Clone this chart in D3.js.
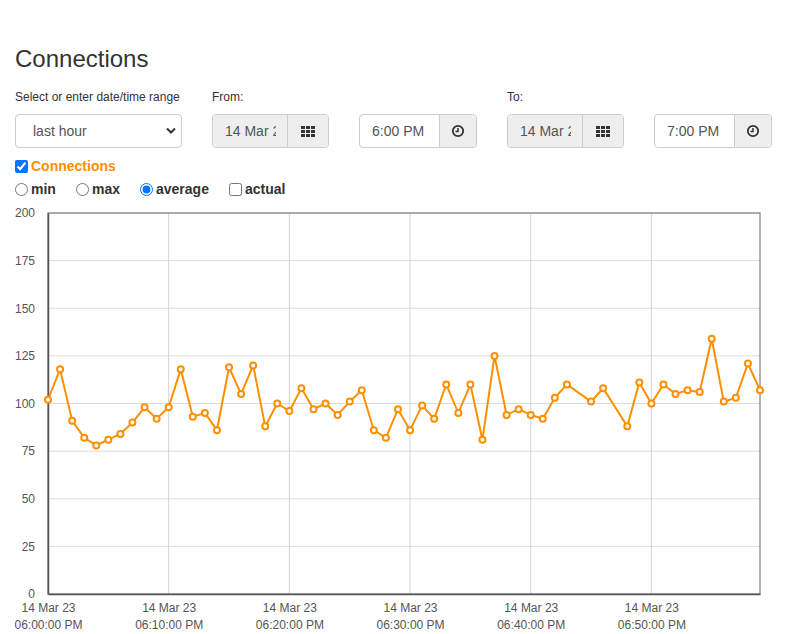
<!DOCTYPE html>
<html>
<head>
<meta charset="utf-8">
<script src="https://cdn.jsdelivr.net/npm/d3@7"></script>
<style>
  body { margin: 0; font-family: "Liberation Sans", Arial, sans-serif; color: #333; background: #fff; }
  .abs { position: absolute; }
  h3 { position: absolute; left: 15px; top: 45px; margin: 0; font-size: 24px; font-weight: 500; line-height: 28px; }
  .lbl { font-size: 12px; line-height: 14px; top: 90px; }
  .box { top: 114px; height: 32px; border: 1px solid #ccc; border-radius: 4px; box-sizing: content-box; overflow: hidden; display: flex; }
  .box .inp { height: 32px; line-height: 32px; font-size: 14px; color: #555; white-space: nowrap; overflow: hidden; box-sizing: border-box; padding-left: 12px; }
  .box .inp span { display: inline-block; overflow: hidden; vertical-align: top; }
  .box .btn { height: 32px; background: #eee; border-left: 1px solid #ccc; display: flex; align-items: center; justify-content: center; }
  .chk { font-size: 14px; font-weight: bold; line-height: 16px; display: flex; align-items: center; }
  .chk input { margin: 0 3px 0 0; width: 13px; height: 13px; }
  #chart { position: absolute; left: 0; top: 200px; }
</style>
</head>
<body>
<h3>Connections</h3>
<div class="abs lbl" style="left:15px">Select or enter date/time range</div>
<div class="abs lbl" style="left:212px">From:</div>
<div class="abs lbl" style="left:507px">To:</div>

<div class="abs box" style="left:15px;width:165px;">
  <div class="inp" style="width:165px;padding-left:17px;">last hour</div>
  <svg class="abs" style="left:150px;top:12px" width="10" height="8"><path d="M1,1.5 L5,5.5 L9,1.5" fill="none" stroke="#333" stroke-width="2"/></svg>
</div>

<div class="abs box" style="left:212px;width:115px;">
  <div class="inp" style="width:75px;background:#eee;"><span style="width:51px">14 Mar 2023</span></div>
  <div class="btn grid" style="width:40px"></div>
</div>
<div class="abs box" style="left:359px;width:116px;">
  <div class="inp" style="width:80px;">6:00 PM</div>
  <div class="btn clock" style="width:36px"></div>
</div>
<div class="abs box" style="left:507px;width:115px;">
  <div class="inp" style="width:75px;background:#eee;"><span style="width:51px">14 Mar 2023</span></div>
  <div class="btn grid" style="width:40px"></div>
</div>
<div class="abs box" style="left:654px;width:116px;">
  <div class="inp" style="width:80px;">7:00 PM</div>
  <div class="btn clock" style="width:36px"></div>
</div>

<label class="abs chk" style="left:15px;top:158px;color:#ff8f00"><input type="checkbox" checked>Connections</label>
<label class="abs chk" style="left:15px;top:181px"><input type="radio" name="agg">min</label>
<label class="abs chk" style="left:76px;top:181px"><input type="radio" name="agg">max</label>
<label class="abs chk" style="left:140px;top:181px"><input type="radio" name="agg" checked>average</label>
<label class="abs chk" style="left:229px;top:181px"><input type="checkbox">actual</label>

<div id="chart"></div>

<script>
// minutes after 6:00 PM on 14 Mar 2023 (some minutes have no sample)
var minuteOffsets = [0, 1, 2, 3, 4, 5, 6, 7, 8, 9, 10, 11, 12, 13, 14, 15, 16, 17, 18, 19,
    20, 21, 22, 23, 24, 25, 26, 27, 28, 29, 30, 31, 32, 33, 34, 35, 36, 37, 38, 39,
    40, 41, 42, 43, 45, 46, 48, 49, 50, 51, 52, 53, 54, 55, 56, 57, 58, 59];
// average connections per minute
var avgConnections = [102, 118, 91, 82, 78, 81, 84, 90, 98, 92, 98, 118, 93, 95, 86, 119, 105, 120, 88, 100,
    96, 108, 97, 100, 94, 101, 107, 86, 82, 97, 86, 99, 92, 110, 95, 110, 81, 125, 94, 97,
    94, 92, 103, 110, 101, 108, 88, 111, 100, 110, 105, 107, 106, 134, 101, 103, 121, 107];
var yTicks = [0, 25, 50, 75, 100, 125, 150, 175, 200];
var lineColor = "#ff8f00";

var start = new Date(2023, 2, 14, 18, 0, 0);
var data = minuteOffsets.map(function(m, i) {
    return { t: new Date(start.getTime() + m * 60000), v: avgConnections[i] };
});

// little icons on the input-group buttons
d3.selectAll(".grid").append("svg").attr("width", 14).attr("height", 11)
    .selectAll("rect").data(d3.range(9)).enter().append("rect")
    .attr("x", function(d) { return (d % 3) * 5; })
    .attr("y", function(d) { return Math.floor(d / 3) * 4; })
    .attr("width", 4).attr("height", 3).attr("fill", "#333");
var ck = d3.selectAll(".clock").append("svg").attr("width", 14).attr("height", 14);
ck.append("circle").attr("cx", 7).attr("cy", 7).attr("r", 5.2).attr("fill", "none").attr("stroke", "#333").attr("stroke-width", 1.8);
ck.append("path").attr("d", "M7,4 V7.5 H4.5").attr("fill", "none").attr("stroke", "#333").attr("stroke-width", 1.5);

// chart
var margin = { top: 13, right: 27, bottom: 40, left: 48 };
var width = 787, height = 434;
var w = width - margin.left - margin.right,
    h = height - margin.top - margin.bottom;

var svg = d3.select("#chart").append("svg")
    .attr("width", width)
    .attr("height", height)
    .append("g")
    .attr("transform", "translate(" + margin.left + "," + margin.top + ")");

var x = d3.scaleTime()
    .range([0, w])
    .domain(d3.extent(data, function(d) { return d.t; }));
var y = d3.scaleLinear()
    .range([h, 0])
    .domain([0, 200]);

var xTicks = x.ticks(d3.timeMinute.every(10));

// gridlines
svg.append("g")
    .selectAll("line.hg").data(yTicks).enter().append("line")
    .attr("x1", 0).attr("x2", w)
    .attr("y1", function(d) { return y(d); }).attr("y2", function(d) { return y(d); })
    .attr("stroke", "#dcdcdc").attr("stroke-width", 1);
svg.append("g")
    .selectAll("line.vg").data(xTicks).enter().append("line")
    .attr("x1", function(d) { return x(d); }).attr("x2", function(d) { return x(d); })
    .attr("y1", 0).attr("y2", h)
    .attr("stroke", "#d4d4d4").attr("stroke-width", 1);

// frame
svg.append("rect")
    .attr("width", w).attr("height", h)
    .attr("fill", "none").attr("stroke", "#666").attr("stroke-width", 1);

// y axis
var yAxis = svg.append("g")
    .call(d3.axisLeft(y).tickValues(yTicks).tickSize(0).tickPadding(13));
yAxis.select(".domain").attr("stroke", "#555").attr("stroke-width", 1.5);
yAxis.selectAll("text")
    .style("font-family", "Liberation Sans, Arial, sans-serif")
    .style("font-size", "12px")
    .attr("fill", "#555");

// x axis, two-line labels
var xAxis = svg.append("g")
    .attr("transform", "translate(0," + h + ")")
    .call(d3.axisBottom(x).tickValues(xTicks).tickSize(0).tickFormat(""));
xAxis.select(".domain").attr("stroke", "#555").attr("stroke-width", 1.5);
var fmtDay = d3.timeFormat("%d %b %y"),
    fmtTime = d3.timeFormat("%I:%M:%S %p");
xAxis.selectAll(".tick").each(function(d) {
    var t = d3.select(this).select("text")
        .attr("y", 0).attr("dy", null)
        .style("font-family", "Liberation Sans, Arial, sans-serif")
        .style("font-size", "12px")
        .attr("fill", "#555");
    t.append("tspan").attr("x", 0).attr("y", 18).text(fmtDay(d));
    t.append("tspan").attr("x", 0).attr("y", 35).text(fmtTime(d));
});

// line + points
var line = d3.line()
    .x(function(d) { return x(d.t); })
    .y(function(d) { return y(d.v); });

svg.append("path")
    .datum(data)
    .attr("fill", "none")
    .attr("stroke", lineColor)
    .attr("stroke-width", 2)
    .attr("d", line);

svg.selectAll("circle.pt")
    .data(data)
    .enter()
    .append("circle")
    .attr("class", "pt")
    .attr("cx", function(d) { return x(d.t); })
    .attr("cy", function(d) { return y(d.v); })
    .attr("r", 3)
    .attr("fill", "#fff")
    .attr("stroke", lineColor)
    .attr("stroke-width", 2);
</script>
</body>
</html>
